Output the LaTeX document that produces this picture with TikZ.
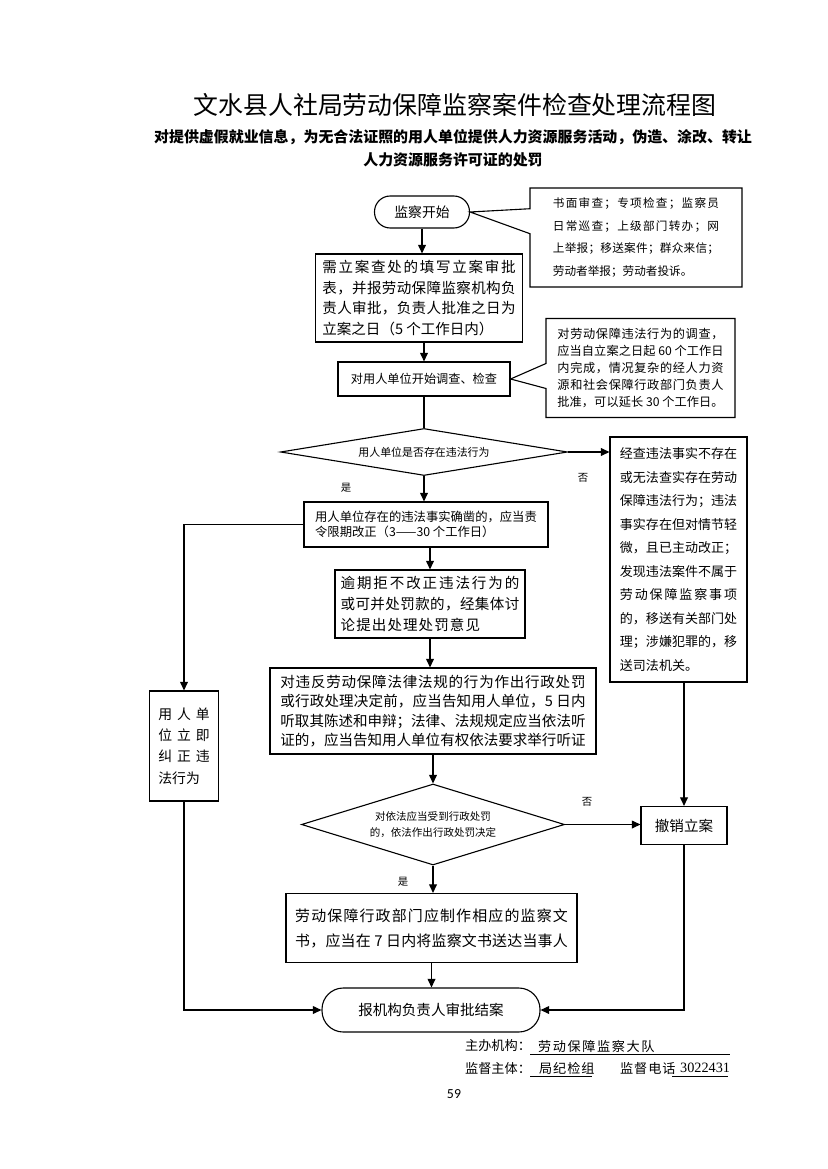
\documentclass[tikz,border=0pt]{standalone}
\usepackage{fontspec}
\setmainfont{Noto Sans CJK SC}
\newfontfamily\numfont{Liberation Serif}
\newfontfamily\pagefont{Carlito}
\usetikzlibrary{positioning, calc, arrows.meta, shapes.geometric, shapes.callouts}
\newdimen\unitpx \unitpx=0.254mm
\newcommand\fsz[2]{\fontsize{#1}{#2}\selectfont}
% spread the characters of one line over a given width
\def\spreadfirst#1{\mbox{#1}\spreadnext}
\def\spreadnext#1{\ifx\relax#1\else\hfil\mbox{#1}\expandafter\spreadnext\fi}
\newcommand\jline[2]{\makebox[#1][s]{\spreadfirst#2\relax}}

\tikzset{
  boxsize/.style 2 args={minimum width=#1\unitpx, minimum height=#2\unitpx},
  procbox/.style={draw, rectangle, inner sep=0pt, align=left},
  endcap/.style={draw, rectangle, rounded corners=#1, inner sep=0pt},
  decision/.style={draw, diamond, aspect=5, inner sep=0pt, align=center},
  notebox/.style={draw, rectangle callout, inner sep=0pt, align=left, callout pointer width=25\unitpx},
  flow/.style={-{Triangle[length=2.2mm, width=2mm]}},
  answer/.style={font=\fsz{7.5}{9}},
  footnote/.style={anchor=west, font=\fsz{9.5}{12}},
}

\begin{document}
\begin{tikzpicture}[x=0.254mm, y=-0.254mm, line width=0.8pt]
    \useasboundingbox (0,0) rectangle (827,1169);
    % title
    \node[font=\fsz{18}{22}] (title) at (455,105) {文水县人社局劳动保障监察案件检查处理流程图};
    \node[font=\bfseries\fsz{10.8}{16.6}, align=center] (subtitle) at (453,148.5) {对提供虚假就业信息，为无合法证照的用人单位提供人力资源服务活动，伪造、涂改、转让\\人力资源服务许可证的处罚};

    % main column
    \node[endcap=4mm, boxsize={95}{32}, font=\fsz{10}{12}] (start) at (422,212) {监察开始};
    \node[notebox, boxsize={212}{99}, callout absolute pointer={(start.east)}, font=\fsz{8.4}{16.2}] (sources) at (636,237.5) {\jline{120pt}{书面审查；专项检查；监察员}\\\jline{120pt}{日常巡查；上级部门转办；网}\\\jline{120pt}{上举报；移送案件；群众来信；}\\劳动者举报；劳动者投诉。};
    \node[procbox, boxsize={207}{88}, font=\fsz{10.5}{14.9}] (filing) at (419,298) {\jline{13.3em}{需立案查处的填写立案审批}\\\jline{13.3em}{表，并报劳动保障监察机构负}\\\jline{13.3em}{责人审批，负责人批准之日为}\\立案之日（5 个工作日内）};
    \node[procbox, boxsize={172}{34}, font=\fsz{8.8}{10}] (inquiry) at (424,379) {对用人单位开始调查、检查};
    \node[notebox, boxsize={189}{99}, callout absolute pointer={(inquiry.east)}, font=\fsz{8.8}{12.2}] (timelimit) at (640.5,368) {\jline{120pt}{对劳动保障违法行为的调查，}\\\jline{120pt}{应当自立案之日起{ 60 }个工作日}\\\jline{120pt}{内完成，情况复杂的经人力资}\\\jline{120pt}{源和社会保障行政部门负责人}\\\jline{120pt}{批准，可以延长{ 30 }个工作日。}};
    \node[decision, boxsize={287}{47}, font=\fsz{7.9}{9}] (violation) at (424,452) {用人单位是否存在违法行为};
    \node[procbox, boxsize={137}{245}, font=\fsz{9.4}{17}] (nocase) at (678.5,559.5) {\jline{9em}{经查违法事实不存在}\\\jline{9em}{或无法查实存在劳动}\\\jline{9em}{保障违法行为；违法}\\\jline{9em}{事实存在但对情节轻}\\\jline{9em}{微，且已主动改正；}\\\jline{9em}{发现违法案件不属于}\\\jline{9em}{劳动保障监察事项}\\\jline{9em}{的，移送有关部门处}\\\jline{9em}{理；涉嫌犯罪的，移}\\送司法机关。};
    \node[procbox, boxsize={244}{45}, font=\fsz{8.9}{10.5}] (rectify) at (426,524.5) {用人单位存在的违法事实确凿的，应当责\\令限期改正（3——30 个工作日）};
    \node[procbox, boxsize={69}{110}, font=\fsz{10}{15.5}] (selffix) at (184,746) {\jline{37pt}{用人单}\\\jline{37pt}{位立即}\\\jline{37pt}{纠正违}\\法行为};
    \node[procbox, boxsize={190}{68}, font=\fsz{10.5}{15}] (penalty) at (430,604) {\jline{12.3em}{逾期拒不改正违法行为的}\\\jline{12.3em}{或可并处罚款的，经集体讨}\\\jline{9.6em}{论提出处理处罚意见}};
    \node[procbox, boxsize={326}{86}, font=\fsz{10.5}{14}] (hearing) at (433,711) {\jline{21em}{对违反劳动保障法律法规的行为作出行政处罚}\\\jline{21em}{或行政处理决定前，应当告知用人单位，{5 }日内}\\\jline{21em}{听取其陈述和申辩；法律、法规规定应当依法听}\\\jline{21em}{证的，应当告知用人单位有权依法要求举行听证}};
    \node[decision, boxsize={263}{81}, font=\fsz{7.6}{11.5}] (decide) at (433,824.5) {对依法应当受到行政处罚\\的，依法作出行政处罚决定};
    \node[procbox, boxsize={86}{38}, font=\fsz{10.5}{12}] (cancel) at (684,825.5) {撤销立案};
    \node[procbox, boxsize={291}{69}, font=\fsz{10.8}{18}] (document) at (431.5,928) {\jline{197pt}{劳动保障行政部门应制作相应的监察文}\\\jline{197pt}{书，应当在{ 7 }日内将监察文书送达当事人}};
    \node[endcap=5.4mm, boxsize={218}{44}, font=\fsz{10.5}{12}] (close) at (431,1010) {报机构负责人审批结案};

    % yes / no
    \node[answer] (no1) at (583,478) {否};
    \node[answer] (yes1) at (346,488) {是};
    \node[answer] (no2) at (587,802) {否};
    \node[answer] (yes2) at (403,882) {是};

    % connectors
    \draw[flow] (start.south) -- (start.south |- filing.north);
    \draw[flow] (inquiry.north |- filing.south) -- (inquiry.north);
    \draw (inquiry.south) -- (violation.north);
    \draw[flow] (violation.south) -- (violation.south |- rectify.north);
    \draw[flow] (violation.east) -- (violation.east -| nocase.west);
    \draw[flow] (rectify.west) -| (selffix.north);
    \draw[flow] (penalty.north |- rectify.south) -- (penalty.north);
    \draw[flow] (penalty.south) -- (penalty.south |- hearing.north);
    \draw[flow] (decide.north |- hearing.south) -- (decide.north);
    \draw[flow] (decide.east) -- (decide.east -| cancel.west);
    \draw[flow] (cancel.north |- nocase.south) -- (cancel.north);
    \draw[flow] (decide.south) -- (decide.south |- document.north);
    \draw[flow] (document.south) -- (document.south |- close.north);
    \draw[flow] (selffix.south) |- (close.west);
    \draw[flow] (cancel.south) |- (close.east);

    % footer
    \node[footnote] (hostkey) at (460,1046) {主办机构：};
    \node[footnote] (hostval) at (533,1046) {\jline{84pt}{劳动保障监察大队}};
    \draw[line width=0.5pt] (530,1054) -- (730,1054);
    \node[footnote] (supkey) at (460,1068) {监督主体：};
    \node[footnote] (supval) at (534,1068) {\jline{40pt}{局纪检组}};
    \draw[line width=0.5pt] (530,1076) -- (592,1076);
    \node[footnote] (telkey) at (615,1068) {\jline{40pt}{监督电话}};
    \node[footnote, font=\numfont\fsz{10.3}{12}] (telval) at (675,1068) {3022431};
    \draw[line width=0.5pt] (672,1076) -- (728,1076);
    \node[font=\pagefont\fsz{10}{12}] (pageno) at (454,1094) {59};
\end{tikzpicture}
\end{document}
